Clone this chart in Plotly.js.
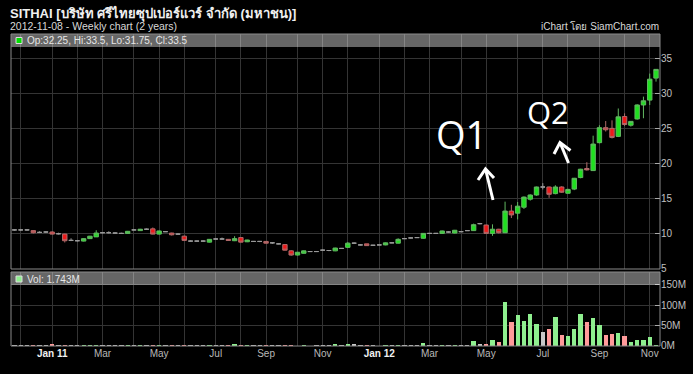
<!DOCTYPE html>
<html><head><meta charset="utf-8">
<script src="https://cdn.plot.ly/plotly-3.0.1.min.js"></script>
<style>html,body{margin:0;padding:0;background:#000;}#chart{width:693px;height:374px;}</style>
</head><body><div id="chart"></div>
<script>
const dates = [
'2010-11-25','2010-12-02','2010-12-09','2010-12-16','2010-12-23','2010-12-30',
'2011-01-06','2011-01-13','2011-01-20','2011-01-27','2011-02-03','2011-02-10','2011-02-17','2011-02-24',
'2011-03-03','2011-03-10','2011-03-17','2011-03-24','2011-03-31','2011-04-07','2011-04-14','2011-04-21','2011-04-28',
'2011-05-05','2011-05-12','2011-05-19','2011-05-26','2011-06-02','2011-06-09','2011-06-16','2011-06-23','2011-06-30',
'2011-07-07','2011-07-14','2011-07-21','2011-07-28','2011-08-04','2011-08-11','2011-08-18','2011-08-25',
'2011-09-01','2011-09-08','2011-09-15','2011-09-22','2011-09-29','2011-10-06','2011-10-13','2011-10-20','2011-10-27',
'2011-11-03','2011-11-10','2011-11-17','2011-11-24','2011-12-01','2011-12-08','2011-12-15','2011-12-22','2011-12-29',
'2012-01-05','2012-01-12','2012-01-19','2012-01-26','2012-02-02','2012-02-09','2012-02-16','2012-02-23',
'2012-03-01','2012-03-08','2012-03-15','2012-03-22','2012-03-29','2012-04-05','2012-04-12','2012-04-19','2012-04-26',
'2012-05-03','2012-05-10','2012-05-17','2012-05-24','2012-05-31','2012-06-07','2012-06-14','2012-06-21','2012-06-28',
'2012-07-05','2012-07-12','2012-07-19','2012-07-26','2012-08-02','2012-08-09','2012-08-16','2012-08-23','2012-08-30',
'2012-09-06','2012-09-13','2012-09-20','2012-09-27','2012-10-04','2012-10-11','2012-10-18','2012-10-25',
'2012-11-01','2012-11-08'];
const openP = [10.5,10.5,10.5,10.4,10.15,10.2,10.2,9.95,9.9,9.0,8.95,8.9,9.25,9.5,10.1,10.1,10.05,10.0,10.0,10.5,
10.4,10.6,10.65,9.9,10.25,10.05,9.9,9.6,8.9,8.9,8.9,8.75,9.2,9.2,9.15,8.95,9.4,8.8,8.85,8.85,
8.85,8.65,8.5,8.4,7.5,6.9,7.15,7.4,7.4,7.6,7.55,7.5,7.85,8.0,8.6,8.35,8.5,8.3,8.35,8.35,
8.65,8.6,9.25,9.35,9.4,9.3,10.0,10.0,10.0,10.2,10.05,10.25,10.4,10.4,11.4,11.2,10.0,10.6,10.1,13.2,
12.9,13.75,14.9,15.5,16.65,16.65,15.7,16.65,15.75,16.35,18.0,19.3,19.0,23.0,25.15,25.05,23.9,26.75,25.5,26.4,
28.4,29.1,32.25];
const highP = [10.6,10.6,10.55,10.45,10.3,10.3,10.3,10.1,9.95,9.3,9.05,9.3,9.65,10.45,10.2,10.3,10.15,10.1,10.35,10.6,
10.65,10.7,10.85,10.4,10.3,10.1,10.0,9.7,9.0,8.95,9.0,9.2,9.3,9.4,9.2,9.6,9.45,9.1,8.9,8.9,
8.9,8.7,8.55,8.45,7.6,7.35,7.55,7.45,7.45,7.7,7.6,7.95,7.9,8.75,8.7,8.45,8.5,8.35,8.4,8.7,
8.75,9.3,9.3,9.4,9.45,10.05,10.05,10.05,10.4,10.3,10.5,10.3,10.45,11.4,11.5,11.25,11.3,10.65,14.55,14.1,
14.5,15.3,15.6,16.7,17.2,16.7,16.9,16.75,16.4,17.95,19.25,20.2,24.0,25.5,26.1,26.2,27.9,27.2,26.1,28.5,
29.6,32.9,33.5];
const lowP = [10.4,10.4,10.4,10.0,10.05,10.1,9.85,9.85,8.7,8.9,8.85,8.85,9.2,9.5,10.0,10.0,10.0,9.95,9.95,10.45,
10.4,10.5,9.85,9.85,10.2,9.7,9.85,8.9,8.85,8.85,8.8,8.7,9.15,9.15,8.95,8.9,8.7,8.75,8.8,8.75,
8.55,8.5,8.45,7.55,6.8,6.85,7.1,7.35,7.35,7.5,7.45,7.45,7.8,7.95,8.5,8.3,8.2,8.25,8.3,8.3,
8.6,8.55,9.2,9.3,9.35,9.25,9.95,9.95,9.95,10.1,10.0,10.2,10.35,10.35,11.3,10.0,9.65,10.0,10.05,12.2,
12.0,13.5,14.7,15.4,16.3,15.1,15.6,15.8,15.7,16.2,17.9,19.0,18.95,22.9,24.6,23.6,23.8,25.4,25.3,26.3,
26.5,28.4,31.75];
const closeP = [10.5,10.5,10.5,10.1,10.15,10.2,9.9,9.95,8.95,9.0,8.95,9.25,9.6,10.05,10.1,10.1,10.05,10.0,10.3,10.5,
10.6,10.6,9.9,10.35,10.25,9.8,9.9,9.0,8.9,8.9,8.9,9.15,9.2,9.2,9.0,9.25,8.75,9.05,8.85,8.85,
8.6,8.65,8.5,7.6,6.9,7.3,7.5,7.4,7.4,7.6,7.55,7.9,7.85,8.6,8.6,8.35,8.25,8.3,8.35,8.65,
8.65,9.15,9.25,9.35,9.4,10.0,10.0,10.0,10.35,10.2,10.45,10.25,10.4,11.25,11.4,10.0,10.6,10.1,13.2,12.65,
13.9,15.2,15.5,16.65,16.65,15.6,16.65,15.9,16.3,17.9,19.2,19.1,22.8,25.15,24.85,23.75,26.7,25.6,26.05,28.4,
29.0,32.1,33.5];
// weekly volume, millions of shares
const volumeM = [1.5,1.2,1.0,1.5,1.2,1.3,3.5,1.5,1.5,1.0,0.8,1.5,1.2,1.5,1.2,1.3,1.2,1.4,1.5,1.3,
1.5,1.3,1.5,1.3,1.5,3.0,0.8,1.5,1.2,1.2,1.0,1.5,0.8,0.8,1.5,4.0,1.5,1.5,1.4,0.8,
1.0,0.6,0.8,1.8,1.2,0.5,0.8,0.5,0.6,1.5,1.8,3.5,2.0,5.0,5.0,1.0,1.5,0.8,0.5,3.0,
1.0,3.0,3.0,1.0,1.5,6.5,2.0,2.0,2.5,2.0,2.5,2.0,2.0,11.5,4.0,5.0,13.0,9.0,108,57.7,
75.8,61.8,78,52.7,33,41,70.8,26,24,41,78,57.7,69,51,26,28,32,24,9,14,
14,22,1.743];
const monthTicks = ['2010-12-02','2011-01-06','2011-02-03','2011-03-03','2011-04-07','2011-05-05','2011-06-02',
'2011-07-07','2011-08-04','2011-09-01','2011-10-06','2011-11-03','2011-12-01','2012-01-05','2012-02-02',
'2012-03-01','2012-04-05','2012-05-03','2012-06-07','2012-07-05','2012-08-02','2012-09-06','2012-10-04','2012-11-01'];
const monthLabels = ['','Jan 11','','Mar','','May','','Jul','','Sep','','Nov','','Jan 12','','Mar','','May','','Jul','','Sep','','Nov'];
const priceTicks = [5,10,15,20,25,30,35];
const volTicks = [0,50,100,150];
const volTickLabels = ['0M','50M','100M','150M'];
const titleText = 'SITHAI [บริษัท ศรีไทยซุปเปอร์แวร์ จำกัด (มหาชน)]';
const subtitleText = '2012-11-08 - Weekly chart (2 years)';
const creditText = 'iChart โดย SiamChart.com';

// ---- styling / layout helpers ----
const L = 11, T = 34, W = 649, H = 312;
const px = x => (x - L) / W;
const py = y => (T + H - y) / H;
const FONT = 'Liberation Sans, Arial, sans-serif';

function subset(cond) {
  const o = {x: [], open: [], high: [], low: [], close: []};
  dates.forEach((d, i) => {
    if (cond(openP[i], closeP[i])) {
      o.x.push(d); o.open.push(openP[i]); o.high.push(highP[i]); o.low.push(lowP[i]); o.close.push(closeP[i]);
    }
  });
  return o;
}
function candle(sub, fill, line) {
  return Object.assign({type: 'candlestick', yaxis: 'y', xaxis: 'x', hoverinfo: 'skip', showlegend: false,
    whiskerwidth: 0,
    increasing: {fillcolor: fill, line: {color: line, width: 1}},
    decreasing: {fillcolor: fill, line: {color: line, width: 1}}}, sub);
}
const up = subset((o, c) => c > o), down = subset((o, c) => c < o), flat = subset((o, c) => c === o);
const volColors = dates.map((d, i) => closeP[i] > openP[i] ? '#8fef8f' : (closeP[i] < openP[i] ? '#ff9a9a' : '#c8c8c8'));

const traces = [
  candle(flat, '#9a9a9a', '#9a9a9a'),
  candle(down, '#ee1a1a', '#b06a6a'),
  candle(up, '#1fe01f', '#62b862'),
  {type: 'bar', x: dates, y: volumeM, yaxis: 'y2', xaxis: 'x', marker: {color: volColors, line: {width: 0}},
   width: 7 * 86400000 * 0.68, hoverinfo: 'skip', showlegend: false}
];

const n = dates.length - 1;
const opText = 'Op:' + openP[n] + ', Hi:' + highP[n] + ', Lo:' + lowP[n] + ', Cl:' + closeP[n];
const volText = 'Vol: ' + volumeM[n].toFixed(3) + 'M';

function rect(x0, y0, x1, y1, fill, line, layer) {
  return {type: 'rect', xref: 'paper', yref: 'paper', x0: px(x0), x1: px(x1), y0: py(y1), y1: py(y0),
    fillcolor: fill, line: line ? {color: line, width: 1} : {width: 0}, layer: layer || 'above'};
}
function path(pts, width) {
  const d = pts.map((p, k) => (k ? 'L' : 'M') + px(p[0]) + ',' + py(p[1])).join(' ');
  return {type: 'path', xref: 'paper', yref: 'paper', path: d, line: {color: '#ffffff', width: width}};
}
function ann(text, x, y, size, color, anchor, bold) {
  return {text: bold ? '<b>' + text + '</b>' : text, xref: 'paper', yref: 'paper', x: px(x), y: py(y),
    xanchor: anchor, yanchor: 'middle', showarrow: false, font: {family: FONT, size: size, color: color}};
}

const shapes = [
  rect(11, 34, 660, 47, 'rgba(255,255,255,0.40)', null),
  rect(11, 272, 660, 285, 'rgba(255,255,255,0.40)', null),
  rect(11, 34, 660, 269, 'rgba(0,0,0,0)', '#8a8a8a'),
  rect(11, 272, 660, 346, 'rgba(0,0,0,0)', '#8a8a8a'),
  rect(16, 37.5, 22, 43.5, '#00e000', '#dddddd'),
  rect(16, 276, 22, 282, '#8fef8f', '#dddddd'),
  path([[493, 200], [485.5, 169]], 3),
  path([[478, 180], [485.5, 169], [494, 178]], 3),
  path([[568.5, 163], [560, 142.5]], 3),
  path([[554, 154], [560, 142.5], [570.5, 150.5]], 3)
];

const annotations = [
  ann(titleText, 8, 13, 13, '#f0f0f0', 'left', true),
  ann(subtitleText, 8, 25.5, 10.5, '#d8d8d8', 'left', false),
  ann(creditText, 661, 25.5, 10, '#d8d8d8', 'right', false),
  ann(opText, 25, 40.5, 10, '#e6e6e6', 'left', false),
  ann(volText, 25, 279, 10, '#e6e6e6', 'left', false),
  {text: 'Q1', xref: 'paper', yref: 'paper', x: px(461), y: py(134), xanchor: 'center', yanchor: 'middle',
   showarrow: false, font: {family: 'Open Sans, sans-serif', size: 38, color: '#ffffff'}},
  {text: 'Q2', xref: 'paper', yref: 'paper', x: px(548), y: py(112), xanchor: 'center', yanchor: 'middle',
   showarrow: false, font: {family: 'Open Sans, sans-serif', size: 31, color: '#ffffff'}}
];

const layout = {
  width: 693, height: 374,
  margin: {l: L, r: 693 - L - W, t: T, b: 374 - T - H, pad: 0},
  paper_bgcolor: '#000000', plot_bgcolor: '#000000',
  showlegend: false, boxgap: 0, boxgroupgap: 0.3, bargap: 0,
  xaxis: {type: 'date', anchor: 'y2', range: ['2010-11-21 04:00', '2012-11-12 10:00'], rangeslider: {visible: false},
    tickvals: monthTicks,
    ticktext: monthLabels.map(s => s.indexOf('Jan') === 0 ? '<b><span style="color:#f0f0f0">' + s + '</span></b>' : s),
    showgrid: true, gridcolor: '#343434', gridwidth: 1, zeroline: false, showline: false,
    ticks: '', tickfont: {family: FONT, size: 10, color: '#b8b8b8'}, fixedrange: true},
  yaxis: {domain: [py(269), 1], anchor: 'x', range: [4.9, 38.57], side: 'right', tickvals: priceTicks,
    showgrid: true, gridcolor: '#343434', zeroline: false, showline: false,
    ticks: 'inside', ticklen: 5, tickcolor: '#aaaaaa', tickfont: {family: FONT, size: 10, color: '#c0c0c0'}},
  yaxis2: {domain: [0, py(272)], anchor: 'x', range: [-0.7, 182], side: 'right', tickvals: volTicks, ticktext: volTickLabels,
    showgrid: true, gridcolor: '#343434', zeroline: false, showline: false,
    ticks: 'inside', ticklen: 5, tickcolor: '#aaaaaa', tickfont: {family: FONT, size: 10, color: '#c0c0c0'}},
  shapes: shapes,
  annotations: annotations
};

Plotly.newPlot('chart', traces, layout, {displayModeBar: false, staticPlot: true});
</script>
</body></html>
